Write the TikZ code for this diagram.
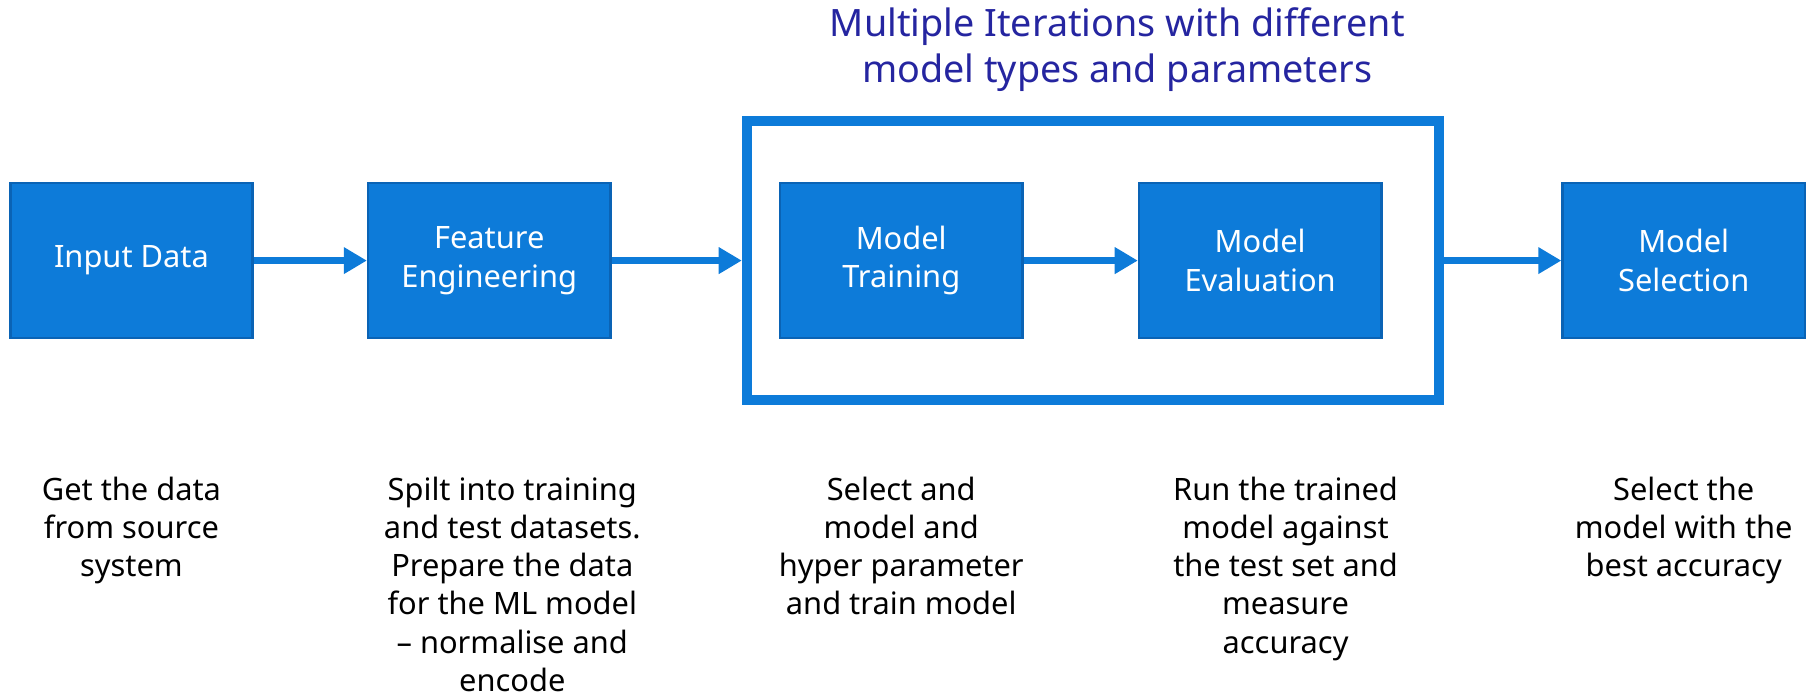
\documentclass[tikz,border=0pt]{standalone}
\usepackage{fontspec}
\setmainfont{Noto Sans}
\usetikzlibrary{positioning, arrows.meta, calc}
\definecolor{stepblue}{HTML}{0D7BD9}
\definecolor{stepedge}{HTML}{0A63B5}
\definecolor{titleblue}{HTML}{2525A0}

\begin{document}
\begin{tikzpicture}[
    x=0.01cm, y=0.01cm,
    >={Triangle[length=0.2cm, width=0.22cm]}, % Filled arrow heads
    % Styles
    stepbox/.style={ % Pipeline stage
        rectangle,
        minimum width=2.1cm,
        minimum height=1.34cm,
        draw=stepedge,
        line width=0.6pt,
        fill=stepblue,
        text=white,
        align=center,
        font=\fontsize{7.6}{9.5}\selectfont
    },
    arrow/.style={
        ->,
        draw=stepblue,
        line width=0.06cm
    },
    note/.style={ % Description below a stage
        align=center,
        inner sep=0pt,
        font=\fontsize{7.6}{9.4}\selectfont
    }
]
    \useasboundingbox (0,0) rectangle (1568,606);

    % Pipeline stages
    \node[stepbox] (in) at (114,380) {Input Data};
    \node[stepbox] (fe) [right=0.98cm of in] {Feature\\Engineering};
    \node[stepbox] (train) [right=1.45cm of fe] {Model\\Training};
    \node[stepbox] (eval) [right=0.99cm of train] {Model\\Evaluation};
    \node[stepbox] (sel) [right=1.55cm of eval] {Model\\Selection};

    % Iteration frame and its title
    \node[draw=stepblue, line width=0.09cm, minimum width=6cm, minimum height=2.42cm, inner sep=0] (loop) at (948,380) {};
    \node[titleblue, align=center, font=\fontsize{9.3}{11.4}\selectfont] (title) at (969,563) {Multiple Iterations with different\\model types and parameters};

    % Stage edges
    \draw[arrow] (in.east) -- (fe.west);
    \draw[arrow] (fe.east) -- (loop.west);
    \draw[arrow] (train.east) -- (eval.west);
    \draw[arrow] (loop.east) -- (sel.west);

    % Descriptions
    \node[note, anchor=north] (inlabel) [below=1.19cm of in] {Get the data\\from source\\system};
    \node[note, anchor=north] (felabel) [below=1.19cm of fe, xshift=0.2cm] {Spilt into training\\and test datasets.\\Prepare the data\\for the ML model\\– normalise and\\encode};
    \node[note, anchor=north] (trainlabel) [below=1.19cm of train] {Select and\\model and\\hyper parameter\\and train model};
    \node[note, anchor=north] (evallabel) [below=1.19cm of eval, xshift=0.22cm] {Run the trained\\model against\\the test set and\\measure\\accuracy};
    \node[note, anchor=north] (sellabel) [below=1.19cm of sel] {Select the\\model with the\\best accuracy};
\end{tikzpicture}
\end{document}
